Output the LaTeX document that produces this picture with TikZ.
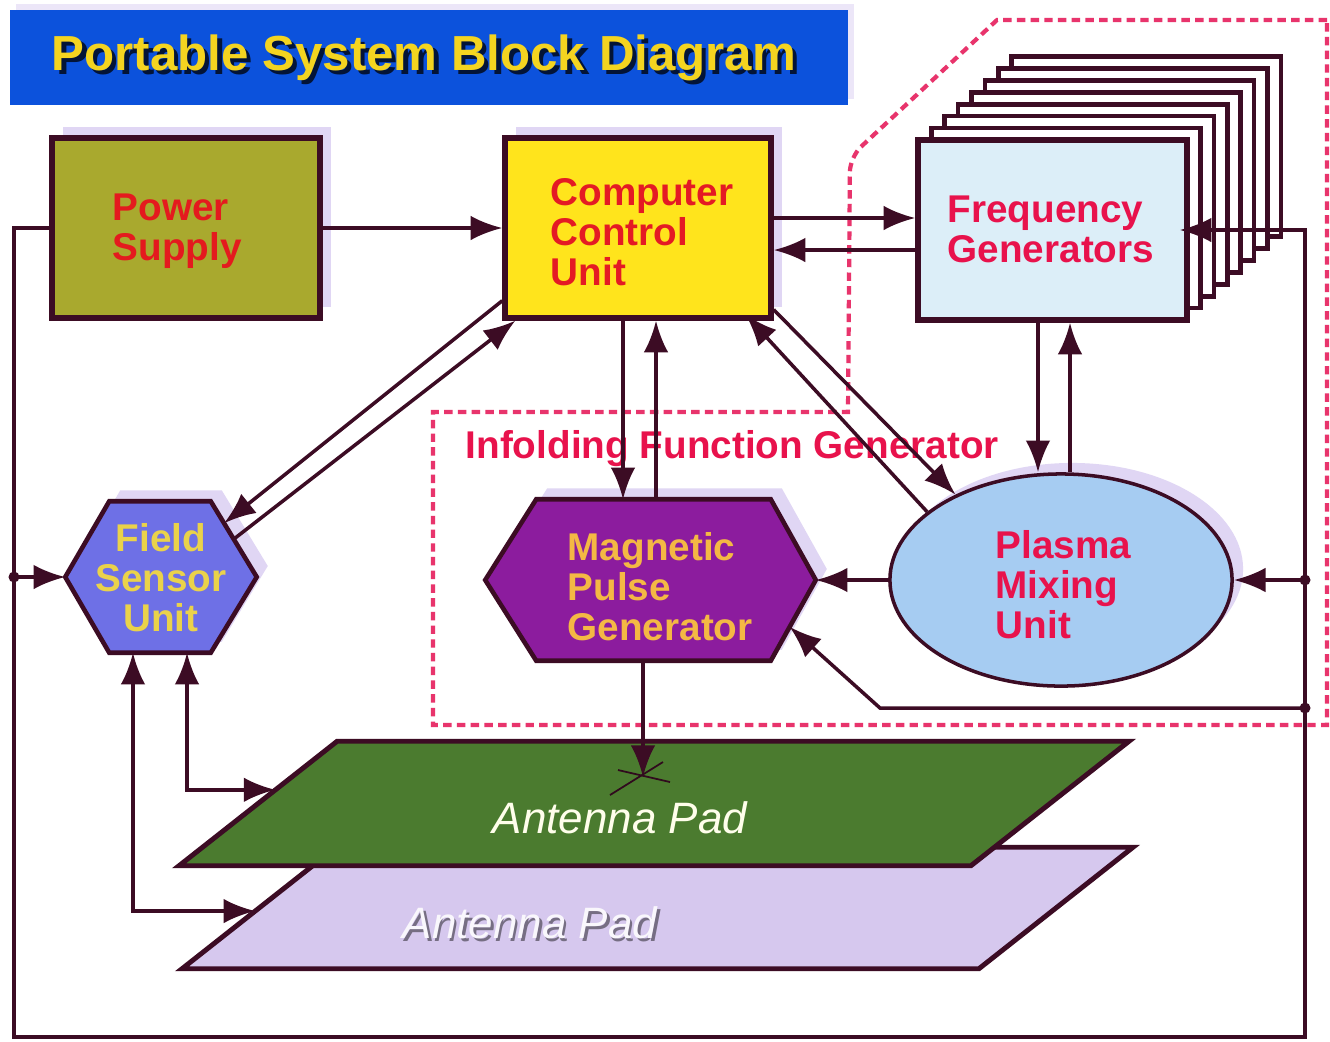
\documentclass[tikz,border=0pt]{standalone}
\usepackage{fontspec}
\setmainfont{Liberation Sans}
\usetikzlibrary{arrows.meta,shadows,shapes.geometric,calc}
\definecolor{ln}{HTML}{3C0C24}
\definecolor{dashc}{HTML}{E8346C}
\definecolor{titleblue}{HTML}{0C52DC}
\definecolor{titleyel}{HTML}{F4D420}
\definecolor{shadowc}{HTML}{E0D6F4}
\definecolor{psfill}{HTML}{A9A92E}
\definecolor{psred}{HTML}{E41A1E}
\definecolor{ccufill}{HTML}{FFE41C}
\definecolor{ccured}{HTML}{E41A24}
\definecolor{fgfill}{HTML}{DCEEF8}
\definecolor{crim}{HTML}{E8124C}
\definecolor{fsufill}{HTML}{6E70E6}
\definecolor{fsutext}{HTML}{EAD24A}
\definecolor{mpgfill}{HTML}{8C1C9E}
\definecolor{mpgtext}{HTML}{F4B844}
\definecolor{pmufill}{HTML}{A6CCF2}
\definecolor{padgreen}{HTML}{4B7B2F}
\definecolor{padlav}{HTML}{D6C8EE}
\begin{document}
\begin{tikzpicture}[x=0.01cm,y=-0.01cm,
  conn/.style={draw=ln, line width=1pt},
  arr/.style={conn, -{Latex[length=9pt,width=7pt]}},
  darr/.style={conn, {Latex[length=9pt,width=7pt]}-{Latex[length=9pt,width=7pt]}},
  box/.style={draw=ln, line width=1.5pt, rectangle, inner sep=0pt},
  ghost/.style={rectangle, inner sep=0pt, draw=none},
  shd/.style={general shadow={fill=shadowc, shadow xshift=0.11cm, shadow yshift=0.11cm}},
  lbl/.style={font=\bfseries\fontsize{11}{11.4}\selectfont, align=left, inner sep=0pt},
  dot/.style={circle, fill=ln, inner sep=0pt, minimum size=0.11cm},
  bound/.style={draw=dashc, line width=1.2pt, dash pattern=on 2.4pt off 1.5pt},
  padtext/.style={font=\itshape\fontsize{12.5}{14}\selectfont, inner sep=0pt}
]
\useasboundingbox[fill=white] (0,0) rectangle (1330,1041);

% title
\node[ghost, general shadow={fill=shadowc!60, shadow xshift=0.06cm, shadow yshift=0.06cm}, fill=titleblue, minimum width=8.38cm, minimum height=0.95cm] (title) at (429,57.5) {};
\node[font=\bfseries\fontsize{14}{16}\selectfont, text=black!75!titleblue, inner sep=0pt] (title-s) at ([shift={(1.2pt,-1.2pt)}]424,57.5) {Portable System Block Diagram};
\node[font=\bfseries\fontsize{14}{16}\selectfont, text=titleyel, inner sep=0pt] (title-t) at (424,57.5) {Portable System Block Diagram};

% dashed boundary
\draw[bound] (1327,20) -- (997,20) [rounded corners=0.15cm] -- (850,157) [sharp corners] -- (848,412) -- (433,412) -- (433,725) -- (1327,725) -- cycle;
\node[lbl, text=crim, anchor=north west] (ifg-t) at (465,430) {Infolding Function Generator};

% power supply
\node[box, shd, fill=psfill, minimum width=2.68cm, minimum height=1.80cm] (ps) at (186,228) {};
\node[lbl, text=psred, anchor=north west] (ps-t) at (112,193) {Power\\Supply};

% computer control unit
\node[box, shd, fill=ccufill, minimum width=2.66cm, minimum height=1.80cm] (ccu) at (638,228) {};
\node[lbl, text=ccured, anchor=north west] (ccu-t) at (550,178) {Computer\\Control\\Unit};

% frequency generators stack
\foreach \k in {7,6,...,1}{
  \node[box, fill=white, line width=1.3pt, minimum width=2.69cm, minimum height=1.80cm] (fgb\k) at ({1052.5+13.4*\k},{230-11.9*\k}) {};
}
\node[box, fill=fgfill, minimum width=2.69cm, minimum height=1.80cm] (fg) at (1052.5,230) {};
\node[lbl, text=crim, anchor=north west] (fg-t) at (947,195) {Frequency\\Generators};

% field sensor unit
\node[ghost, minimum width=1.90cm, minimum height=1.50cm] (fsu) at (161,577) {};
\draw[draw=ln, line width=1.3pt, fill=fsufill, shd] (fsu.west) -- ([xshift=0.44cm]fsu.north west) -- ([xshift=-0.46cm]fsu.north east) -- (fsu.east) -- ([xshift=-0.46cm]fsu.south east) -- ([xshift=0.44cm]fsu.south west) -- cycle;
\node[lbl, align=center, text=fsutext] (fsu-t) at (161,578) {Field\\Sensor\\Unit};

% magnetic pulse generator
\node[ghost, minimum width=3.29cm, minimum height=1.60cm] (mpg) at (650.5,580) {};
\draw[draw=ln, line width=1.3pt, fill=mpgfill, shd] (mpg.west) -- ([xshift=0.51cm]mpg.north west) -- ([xshift=-0.45cm]mpg.north east) -- (mpg.east) -- ([xshift=-0.45cm]mpg.south east) -- ([xshift=0.51cm]mpg.south west) -- cycle;
\node[lbl, text=mpgtext, anchor=north west] (mpg-t) at (567,532) {Magnetic\\Pulse\\Generator};

% plasma mixing unit
\node[ellipse, draw=ln, line width=1pt, fill=pmufill, shd, minimum width=3.42cm, minimum height=2.12cm, inner sep=0pt] (pmu) at (1061,580) {};
\node[lbl, text=crim, anchor=north west] (pmu-t) at (995,530) {Plasma\\Mixing\\Unit};

% antenna pads
\node[ghost, minimum width=9.49cm, minimum height=1.20cm] (pad2) at (657.5,908) {};
\draw[draw=ln, line width=1.4pt, fill=padlav] ([xshift=1.54cm]pad2.north west) -- (pad2.north east) -- ([xshift=-1.54cm]pad2.south east) -- (pad2.south west) -- cycle;
\node[padtext, text=black!45!padlav] (pad2-s) at ([shift={(0.7pt,-0.7pt)}]530,923) {Antenna Pad};
\node[padtext, text=white!85!padlav] (pad2-t) at (530,923) {Antenna Pad};

\node[ghost, minimum width=9.48cm, minimum height=1.23cm] (pad1) at (654,803.5) {};
\draw[draw=ln, line width=1.4pt, fill=padgreen] ([xshift=1.58cm]pad1.north west) -- (pad1.north east) -- ([xshift=-1.58cm]pad1.south east) -- (pad1.south west) -- cycle;
\node[padtext, text=white!92!yellow] (pad1-t) at (620,818) {Antenna Pad};

% junction coordinates
\coordinate (ctl) at (14,228);
\coordinate (cbl) at (14,1037);
\coordinate (cbr) at (1305,1037);
\coordinate (ctr) at (1305,230);
\coordinate (cb1) at (880,708);
\coordinate (padin) at (643,777);
\coordinate (mpgin) at ($(mpg.east)!0.58!([xshift=-0.45cm]mpg.south east)$);
\coordinate (fsuin) at ($([xshift=-0.46cm]fsu.north east)!0.29!(fsu.east)$);
\coordinate (fsuout) at ($([xshift=-0.46cm]fsu.north east)!0.5!(fsu.east)$);
\coordinate (pad1in) at ($(pad1.south west)!0.61!([xshift=1.58cm]pad1.north west)$);
\coordinate (pad2in) at ($(pad2.south west)!0.475!([xshift=1.54cm]pad2.north west)$);
\node[dot] (jl) at (14,577) {};
\node[dot] (jr1) at (1305,580) {};
\node[dot] (jr2) at (1305,708) {};

% connectors
\draw[arr] (ps.east) -- (ccu.west);
\draw[arr] (ps.west) -- (ctl) -- (cbl) -- (cbr) -- (ctr) -- ([xshift=-0.1cm]fg.east);
\draw[arr] (jl.center) -- (fsu.west);
\draw[arr] (jr1.center) -- (pmu.east);
\draw[arr] (jr2.center) -- (cb1) -- (mpgin);
\draw[arr] ([yshift=0.1cm]ccu.east) -- ([yshift=0.1cm]ccu.east -| fg.west);
\draw[arr] ([yshift=-0.2cm]fg.west) -- ([yshift=-0.2cm]fg.west -| ccu.east);
\draw[arr] ([xshift=-0.145cm]fg.south) -- ([xshift=-0.145cm]fg.south |- pmu.north);
\draw[arr] ([xshift=0.175cm]fg.south |- pmu.north) -- ([xshift=0.175cm]fg.south);
\draw[arr] ([xshift=-0.15cm]ccu.south) -- ([xshift=-0.15cm]ccu.south |- mpg.north);
\draw[arr] ([xshift=0.18cm]ccu.south |- mpg.north) -- ([xshift=0.18cm]ccu.south);
\draw[arr] ([yshift=0.2cm]ccu.south west) -- (fsuin);
\draw[arr] (fsuout) -- ([xshift=0.13cm]ccu.south west);
\draw[arr] ([yshift=0.11cm]ccu.south east) -- (pmu.141);
\draw[arr] (pmu.153) -- ([xshift=-0.28cm,yshift=0.06cm]ccu.south east);
\draw[arr] (pmu.west) -- (mpg.east);
\draw[arr] ([xshift=-0.075cm]mpg.south) -- (padin);
\draw[ln!80!black, line width=0.5pt] (610,795) -- (663,762);
\draw[ln!80!black, line width=0.5pt] (618,770) -- (670,782);
\draw[darr] ([xshift=0.26cm]fsu.south) |- (pad1in);
\draw[darr] ([xshift=-0.28cm]fsu.south) |- (pad2in);
\end{tikzpicture}
\end{document}
